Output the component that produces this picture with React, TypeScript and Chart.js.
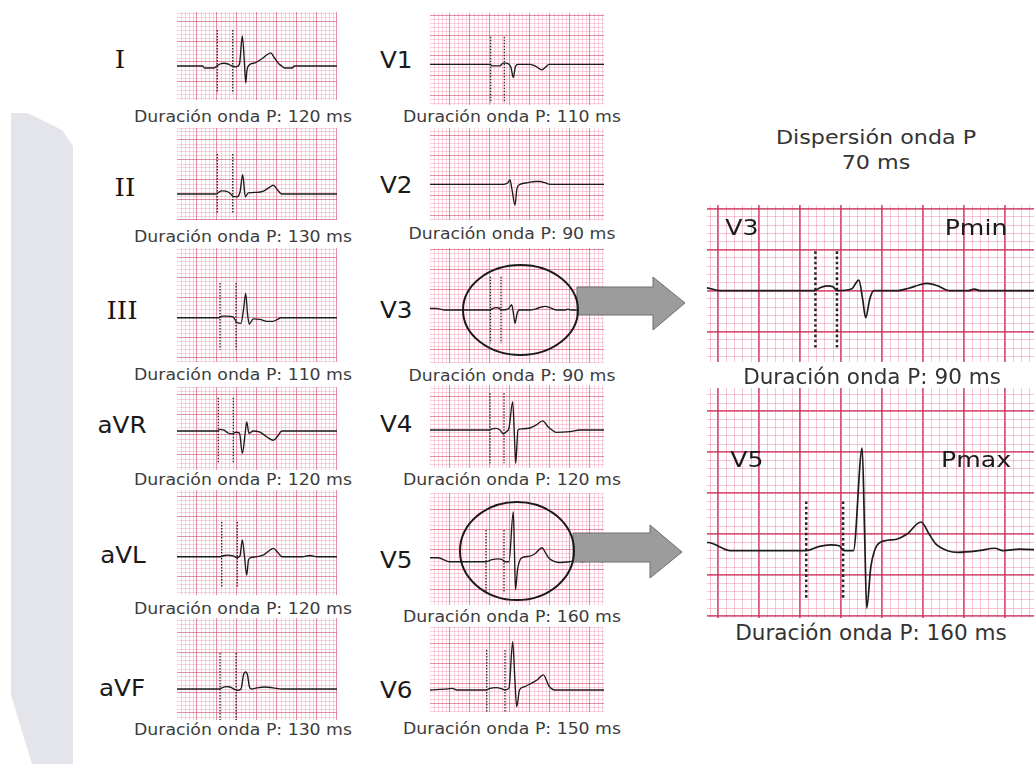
import React, { useEffect, useRef } from "react";
import { Chart, registerables } from "chart.js";
Chart.register(...registerables);

// ---------------- DATA ----------------
const leadNames = ["I", "II", "III", "aVR", "aVL", "aVF", "V1", "V2", "V3", "V4", "V5", "V6"];
const pDurationMs = [120, 130, 110, 120, 120, 130, 110, 90, 90, 120, 160, 150];
const pOnsetMs = [403, 403, 430, 413, 447, 430, 607, null, 605, 600, 560, 567];
const pOffsetMs = [557, 557, 590, 563, 603, 590, 743, null, 710, 740, 740, 750];
const markerTopMv = [0.9, 1.0, 0.87, 0.83, 0.87, 0.9, 0.69, null, 0.83, 0.92, 0.79, 1.0];
const markerBottomMv = [-0.68, -0.48, -0.8, -0.78, -0.75, -0.78, -0.97, null, -0.83, -0.83, -0.79, -0.58];
const zoomLeads = ["V3", "V5"];
const zoomTags = ["Pmin", "Pmax"];
const zoomMarkerTopMv = [0.48, 0.6];
const zoomMarkerBottomMv = [-0.72, -0.6];
const dispersionMs = 70;

const leadI_ms = [0, 255, 275, 370, 400, 430, 470, 510, 550, 590, 625, 653, 675, 687, 700, 720, 780, 850, 900, 937, 975, 1020, 1047, 1075, 1150, 1175, 1600];
const leadI_mV = [0, 0, -0.05, -0.05, 0, 0.05, 0.07, 0.05, 0, -0.02, 0.05, 0.75, 0.05, -0.42, -0.1, 0.02, 0.08, 0.18, 0.28, 0.33, 0.2, 0.05, 0, -0.05, -0.05, 0, 0];

const leadII_ms = [0, 380, 410, 450, 490, 530, 560, 600, 630, 657, 683, 713, 800, 870, 920, 963, 1005, 1047, 1600];
const leadII_mV = [0, 0, 0.03, 0.08, 0.07, 0.02, -0.06, -0.07, 0.05, 0.48, -0.07, 0.03, 0.04, 0.08, 0.16, 0.22, 0.1, 0, 0];

const leadIII_ms = [0, 420, 450, 500, 560, 600, 640, 665, 687, 705, 723, 763, 830, 900, 960, 1000, 1040, 1600];
const leadIII_mV = [0, 0, 0.04, 0.04, 0.02, -0.12, -0.14, 0.2, 0.61, 0.1, -0.16, -0.03, -0.04, -0.09, -0.09, -0.05, 0, 0];

const leadAVR_ms = [0, 400, 430, 470, 510, 550, 590, 625, 653, 680, 697, 720, 760, 830, 900, 963, 1010, 1047, 1600];
const leadAVR_mV = [0, 0, 0.04, 0.02, -0.05, -0.07, -0.03, -0.05, -0.56, -0.1, 0.23, -0.06, 0, -0.03, -0.15, -0.23, -0.12, 0, 0];

const leadAVL_ms = [0, 440, 470, 510, 560, 600, 630, 653, 675, 697, 715, 740, 800, 870, 920, 963, 1010, 1050, 1250, 1330, 1400, 1600];
const leadAVL_mV = [0, 0, 0.03, 0.04, 0.02, -0.02, 0.02, 0.42, 0, -0.46, -0.08, -0.02, 0, 0.05, 0.15, 0.21, 0.1, 0, 0, 0.03, 0, 0];

const leadAVF_ms = [0, 420, 450, 490, 530, 570, 610, 640, 665, 685, 705, 725, 745, 800, 880, 960, 1050, 1600];
const leadAVF_mV = [0, 0, 0.03, 0.06, 0.05, 0, -0.03, 0, 0.35, 0.43, 0.35, 0.05, 0, 0.03, 0.05, 0.03, 0, 0];

const leadV1_ms = [0, 600, 620, 700, 730, 760, 790, 810, 833, 855, 880, 1000, 1060, 1117, 1160, 1190, 1740];
const leadV1_mV = [0, 0, -0.04, -0.04, 0.03, 0.03, 0, -0.08, -0.33, -0.05, 0, 0, -0.05, -0.14, -0.06, 0, 0];

const leadV2_ms = [0, 740, 775, 800, 818, 850, 870, 900, 980, 1050, 1100, 1150, 1200, 1740];
const leadV2_mV = [0, 0, 0.03, 0.11, -0.1, -0.52, -0.1, 0, 0.04, 0.07, 0.07, 0.04, 0, 0];

const leadV3_ms = [0, 60, 140, 600, 630, 660, 690, 710, 780, 817, 835, 850, 870, 890, 1000, 1060, 1110, 1150, 1200, 1260, 1350, 1380, 1410, 1740];
const leadV3_mV = [0.04, 0.04, 0, 0, 0.04, 0.06, 0.05, 0, 0.02, 0.13, -0.1, -0.33, -0.1, 0, 0, 0.03, 0.07, 0.09, 0.06, 0, 0, 0.02, 0, 0];

const leadV4_ms = [0, 590, 620, 660, 700, 733, 760, 790, 827, 845, 857, 880, 920, 1000, 1060, 1127, 1180, 1220, 1260, 1400, 1500, 1740];
const leadV4_mV = [0, 0, 0.03, 0.04, 0, -0.1, -0.05, 0.05, 0.71, -0.2, -0.83, 0, 0.03, 0.05, 0.12, 0.23, 0.08, 0, -0.06, -0.04, 0, 0];

const leadV5_ms = [0, 80, 190, 560, 620, 680, 720, 745, 790, 833, 845, 855, 875, 893, 920, 1000, 1050, 1120, 1160, 1193, 1250, 1300, 1400, 1480, 1520, 1600, 1740];
const leadV5_mV = [0.1, 0.1, 0, 0, 0.05, 0.07, 0.06, 0, 0, 1.25, 0.2, -0.7, -0.2, 0, 0.1, 0.14, 0.2, 0.35, 0.2, 0.08, 0, -0.02, 0, 0.03, 0, 0.02, 0];

const leadV6_ms = [0, 180, 220, 270, 560, 600, 660, 720, 750, 790, 827, 850, 867, 895, 940, 1000, 1070, 1133, 1190, 1250, 1740];
const leadV6_mV = [0, 0.03, 0.04, 0, 0, 0.04, 0.06, 0.03, 0, 0.05, 1.21, 0.2, -0.42, 0, 0.08, 0.15, 0.25, 0.38, 0.1, 0, 0];

const leadTimes = [leadI_ms, leadII_ms, leadIII_ms, leadAVR_ms, leadAVL_ms, leadAVF_ms, leadV1_ms, leadV2_ms, leadV3_ms, leadV4_ms, leadV5_ms, leadV6_ms];
const leadVolts = [leadI_mV, leadII_mV, leadIII_mV, leadAVR_mV, leadAVL_mV, leadAVF_mV, leadV1_mV, leadV2_mV, leadV3_mV, leadV4_mV, leadV5_mV, leadV6_mV];

// ---------------- LAYOUT ----------------
type Layout = { left: number; top: number; w: number; h: number; base: number; phaseY: number };
const smallLayout: Layout[] = [
  { left: 177, top: 12, w: 160, h: 88, base: 66, phaseY: 0.1 },
  { left: 177, top: 128, w: 160, h: 92, base: 194, phaseY: 0.35 },
  { left: 177, top: 248, w: 160, h: 114, base: 317.7, phaseY: 0 },
  { left: 177, top: 387, w: 160, h: 83, base: 431, phaseY: 0.4 },
  { left: 177, top: 490, w: 160, h: 105, base: 556.7, phaseY: 0 },
  { left: 177, top: 618, w: 160, h: 102, base: 689, phaseY: 0.4 },
  { left: 430, top: 13, w: 174, h: 92, base: 64.3, phaseY: 0.23 },
  { left: 430, top: 128, w: 174, h: 92, base: 184.3, phaseY: 0.23 },
  { left: 430, top: 248, w: 174, h: 115, base: 310, phaseY: 0 },
  { left: 430, top: 385, w: 174, h: 83, base: 430, phaseY: 0.33 },
  { left: 430, top: 493, w: 174, h: 112, base: 561.7, phaseY: 0.3 },
  { left: 430, top: 627, w: 174, h: 85, base: 690, phaseY: 0.17 },
];
const bigLayout: Layout[] = [
  { left: 707, top: 205, w: 327, h: 157, base: 290.7, phaseY: 0 },
  { left: 707, top: 388, w: 327, h: 230, base: 550.7, phaseY: 0.2 },
];
const leadLabelPos = [
  [120, 59], [125, 187], [122, 310], [122, 425], [123, 555], [122, 688],
  [380, 60], [380, 185], [380, 310], [380, 424], [380, 560], [380, 690],
];
const durLabelPos = [
  [243, 117], [243, 237], [243, 375], [243, 480], [243, 609], [243, 730],
  [512, 117], [512, 234], [512, 376], [512, 480], [512, 617], [512, 729],
];

type PanelCfg = {
  layout: Layout;
  big: boolean;
  t: number[];
  v: number[];
  pOn: number | null;
  pOff: number | null;
  mTop: number | null;
  mBot: number | null;
  tMin: number;
  phaseX: number;
};

function makeTicks(min: number, max: number, phase: number, step: number) {
  const ticks: { value: number; major: boolean }[] = [];
  const start = Math.ceil((min - phase) / step - 1e-6);
  for (let k = start; phase + k * step <= max + 1e-6; k++) {
    ticks.push({ value: phase + k * step, major: ((k % 5) + 5) % 5 === 0 });
  }
  return ticks;
}

function EcgPanel({ cfg }: { cfg: PanelCfg }) {
  const ref = useRef<HTMLCanvasElement>(null);
  useEffect(() => {
    const { layout, big } = cfg;
    const pxPerMs = big ? 0.205 : 0.1;
    const pxPerMv = big ? 82 : 40;
    const tMin = cfg.tMin;
    const tMax = tMin + layout.w / pxPerMs;
    const vMax = (layout.base - layout.top) / pxPerMv;
    const vMin = -(layout.top + layout.h - layout.base) / pxPerMv;
    const majorC = big ? "rgba(205,45,90,0.8)" : "rgba(210,70,105,0.6)";
    const minorC = big ? "rgba(232,115,145,0.4)" : "rgba(238,125,155,0.34)";
    const majorW = big ? 1.8 : 1.1;
    const gridOpts = {
      drawTicks: false,
      color: (ctx: any) => (ctx.tick && ctx.tick.major ? majorC : minorC),
      lineWidth: (ctx: any) => (ctx.tick && ctx.tick.major ? majorW : 1),
    };
    const datasets: any[] = [
      {
        data: cfg.t.map((x, i) => ({ x, y: cfg.v[i] })),
        borderColor: "#1c1c1c",
        borderWidth: big ? 1.7 : 1.35,
        pointRadius: 0,
        cubicInterpolationMode: "monotone",
        fill: false,
      },
    ];
    if (cfg.pOn !== null && cfg.pOff !== null && cfg.mTop !== null && cfg.mBot !== null) {
      [cfg.pOn, cfg.pOff].forEach((pos) => {
        datasets.push({
          data: [
            { x: pos, y: cfg.mTop },
            { x: pos, y: cfg.mBot },
          ],
          borderColor: "#262626",
          borderWidth: big ? 2.5 : 1.3,
          borderDash: big ? [2.6, 2.6] : [1.5, 1.5],
          pointRadius: 0,
          fill: false,
        });
      });
    }
    const chart = new Chart(ref.current as HTMLCanvasElement, {
      type: "line",
      data: { datasets },
      options: {
        animation: false,
        responsive: false,
        events: [],
        layout: { padding: 0 },
        plugins: { legend: { display: false }, tooltip: { enabled: false } },
        scales: {
          x: {
            type: "linear",
            min: tMin,
            max: tMax,
            bounds: "data",
            ticks: { display: false, autoSkip: false },
            border: { display: false },
            grid: gridOpts,
            afterBuildTicks: (scale: any) => {
              scale.ticks = makeTicks(tMin, tMax, cfg.phaseX, 40);
            },
          },
          y: {
            type: "linear",
            min: vMin,
            max: vMax,
            bounds: "data",
            ticks: { display: false, autoSkip: false },
            border: { display: false },
            grid: gridOpts,
            afterBuildTicks: (scale: any) => {
              scale.ticks = makeTicks(vMin, vMax, layout.phaseY, 0.1);
            },
          },
        },
      } as any,
    });
    return () => chart.destroy();
  }, []);
  const { layout } = cfg;
  return (
    <canvas
      ref={ref}
      width={layout.w}
      height={layout.h}
      style={{ position: "absolute", left: layout.left, top: layout.top, width: layout.w, height: layout.h }}
    />
  );
}

function Txt({
  x, y, size, children, family = "'DejaVu Sans', sans-serif", sx = 1, align = "center", color = "#333",
}: any) {
  const tx = align === "center" ? "-50%" : "0";
  return (
    <div
      style={{
        position: "absolute",
        left: x,
        top: y,
        fontFamily: family,
        fontSize: size,
        lineHeight: 1,
        color,
        whiteSpace: "nowrap",
        transform: `translate(${tx}, -50%) scaleX(${sx})`,
        transformOrigin: align === "center" ? "50% 50%" : "0 50%",
      }}
    >
      {children}
    </div>
  );
}

export default function App() {
  const smallCfgs: PanelCfg[] = leadNames.map((_, i) => ({
    layout: smallLayout[i],
    big: false,
    t: leadTimes[i],
    v: leadVolts[i],
    pOn: pOnsetMs[i],
    pOff: pOffsetMs[i],
    mTop: markerTopMv[i],
    mBot: markerBottomMv[i],
    tMin: 0,
    phaseX: 0,
  }));
  const bigCfgs: PanelCfg[] = zoomLeads.map((name, j) => {
    const i = leadNames.indexOf(name);
    return {
      layout: bigLayout[j],
      big: true,
      t: leadTimes[i],
      v: leadVolts[i],
      pOn: pOnsetMs[i],
      pOff: pOffsetMs[i],
      mTop: zoomMarkerTopMv[j],
      mBot: zoomMarkerBottomMv[j],
      tMin: 76,
      phaseX: 131,
    };
  });
  const roman = (n: string) => /^I+$/.test(n);
  return (
    <div
      style={{
        position: "fixed",
        left: 0,
        top: 0,
        width: 1034,
        height: 764,
        background: "#fff",
        overflow: "hidden",
      }}
    >
      <svg width={1034} height={764} style={{ position: "absolute", left: 0, top: 0 }}>
        <polygon
          points="11,113 27,113 40,119 62,130 73,146 73,764 32,764 11,695"
          fill="#e4e4eb"
        />
      </svg>
      {smallCfgs.map((c, i) => (
        <EcgPanel key={"s" + i} cfg={c} />
      ))}
      {bigCfgs.map((c, j) => (
        <EcgPanel key={"b" + j} cfg={c} />
      ))}
      {leadNames.map((n, i) =>
        roman(n) ? (
          <Txt key={"n" + i} x={leadLabelPos[i][0]} y={leadLabelPos[i][1]} size={25} sx={1.05} family="'DejaVu Serif', serif" color="#141414">
            {n}
          </Txt>
        ) : (
          <Txt
            key={"n" + i}
            x={leadLabelPos[i][0]}
            y={leadLabelPos[i][1]}
            size={23}
            sx={1.07}
            color="#1a1a1a"
            align={i >= 6 ? "left" : "center"}
          >
            {n}
          </Txt>
        )
      )}
      {leadNames.map((_, i) => (
        <Txt key={"d" + i} x={durLabelPos[i][0]} y={durLabelPos[i][1]} size={16} sx={1.08} color="#3c3c3c">
          {`Duración onda P: ${pDurationMs[i]} ms`}
        </Txt>
      ))}
      <Txt x={876} y={137} size={19} sx={1.17} color="#333">
        Dispersión onda P
      </Txt>
      <Txt x={876} y={162} size={19} sx={1.17} color="#333">
        {`${dispersionMs} ms`}
      </Txt>
      <Txt x={742} y={228} size={21} sx={1.2} color="#1a1a1a">{zoomLeads[0]}</Txt>
      <Txt x={976} y={228} size={21} sx={1.2} color="#1a1a1a">{zoomTags[0]}</Txt>
      <Txt x={747} y={460} size={21} sx={1.2} color="#1a1a1a">{zoomLeads[1]}</Txt>
      <Txt x={976} y={460} size={21} sx={1.2} color="#1a1a1a">{zoomTags[1]}</Txt>
      <Txt x={872} y={377} size={20.5} sx={1.05} color="#333">
        {`Duración onda P: ${pDurationMs[leadNames.indexOf(zoomLeads[0])]} ms`}
      </Txt>
      <Txt x={871} y={633} size={20.5} sx={1.05} color="#333">
        {`Duración onda P: ${pDurationMs[leadNames.indexOf(zoomLeads[1])]} ms`}
      </Txt>
      <svg width={1034} height={764} style={{ position: "absolute", left: 0, top: 0, pointerEvents: "none" }}>
        <polygon
          points="577,287 653,287 653,277 685,303 653,330 653,315 577,315"
          fill="#9c9c9c"
          stroke="#6f6f6f"
          strokeWidth={1}
        />
        <polygon
          points="573,533 650,533 650,525 682,552 650,578 650,562 573,562"
          fill="#9c9c9c"
          stroke="#6f6f6f"
          strokeWidth={1}
        />
        <ellipse cx={520.5} cy={310} rx={57.5} ry={45} fill="none" stroke="#1a1a1a" strokeWidth={2} />
        <ellipse cx={517} cy={551} rx={57} ry={49} fill="none" stroke="#1a1a1a" strokeWidth={2} />
      </svg>
    </div>
  );
}
